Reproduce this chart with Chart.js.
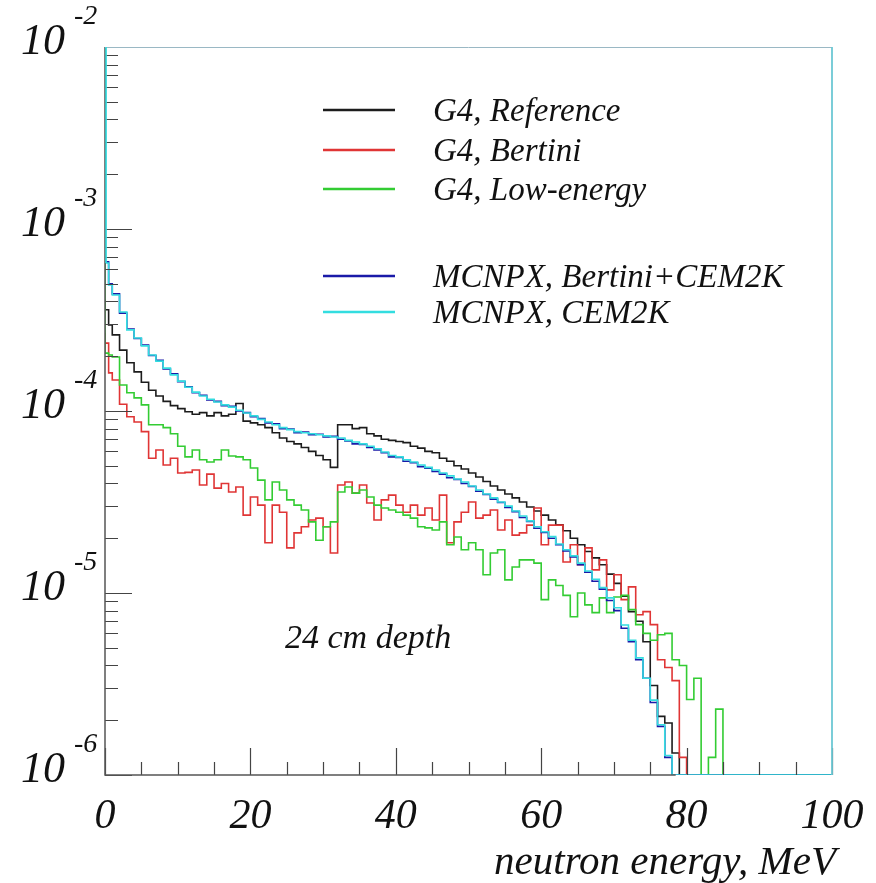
<!DOCTYPE html>
<html><head><meta charset="utf-8">
<script src="https://cdn.jsdelivr.net/npm/chart.js@4.4.1/dist/chart.umd.min.js"></script>
<style>html,body{margin:0;padding:0;background:#fff;}#wrap{width:876px;height:883px;}</style>
</head><body><div id="wrap"><canvas id="c" width="876" height="883"></canvas></div>
<script>
// Bin left edges (MeV); last bin ends at eMax
const edges = [0,0.5,1,2,3,4,5,6,7,8,9,10,11,12,13,14,15,16,17,18,19,20,21,22,23,24,25,26,27,28,29,30,31,32,33,34,35,36,37,38,39,40,41,42,43,44,45,46,47,48,49,50,51,52,53,54,55,56,57,58,59,60,61,62,63,64,65,66,67,68,69,70,71,72,73,74,75,76,77,78,79,80,81,82,83,84,85,86,87,88,89,90,91,92,93,94,95,96,97,98,99];
const eMax = 100;

const g4Reference = [4.1e-4,3.6e-4,
2.97e-4,2.62e-4,2.16e-4,1.84e-4,1.64e-4,1.44e-4,1.30e-4,1.21e-4,1.13e-4,
1.07e-4,1.03e-4,9.9e-5,9.6e-5,9.8e-5,9.4e-5,9.8e-5,9.4e-5,9.6e-5,1.1e-4,
8.8e-5,8.6e-5,8.4e-5,8.1e-5,7.6e-5,7.1e-5,6.8e-5,6.6e-5,6.3e-5,6.0e-5,
5.7e-5,5.4e-5,4.9e-5,8.4e-5,8.4e-5,8.0e-5,8.1e-5,7.5e-5,7.3e-5,7.0e-5,
6.9e-5,6.8e-5,6.7e-5,6.4e-5,6.25e-5,6.0e-5,5.9e-5,5.5e-5,5.3e-5,5.0e-5,
4.8e-5,4.56e-5,4.34e-5,4.1e-5,3.87e-5,3.68e-5,3.5e-5,3.33e-5,3.16e-5,2.97e-5,
2.82e-5,2.68e-5,2.52e-5,2.37e-5,2.2e-5,2.0e-5,1.84e-5,1.69e-5,1.56e-5,1.43e-5,
1.27e-5,1.13e-5,9.6e-6,7.9e-6,7.0e-6,5.4e-6,3.1e-6,2.1e-6,1.93e-6,1.32e-6,
0,0,0,0,0,0,0,0,0,0,
0,0,0,0,0,0,0,0,0,0];

const g4Bertini = [2.69e-4,2.36e-4,
1.62e-4,1.48e-4,1.09e-4,9.3e-5,8.7e-5,7.7e-5,5.5e-5,6.1e-5,5.05e-5,
5.5e-5,4.56e-5,4.6e-5,4.74e-5,3.92e-5,4.5e-5,3.77e-5,4.0e-5,3.59e-5,3.82e-5,
2.68e-5,3.37e-5,3.04e-5,1.89e-5,3.04e-5,2.78e-5,1.77e-5,2.14e-5,2.31e-5,2.52e-5,
2.58e-5,2.31e-5,1.66e-5,3.92e-5,4.07e-5,3.54e-5,3.92e-5,3.12e-5,2.52e-5,3.25e-5,
3.45e-5,3.04e-5,2.78e-5,3.04e-5,2.68e-5,2.93e-5,2.52e-5,3.45e-5,1.89e-5,2.46e-5,
2.78e-5,3.16e-5,2.58e-5,2.68e-5,2.86e-5,2.22e-5,2.52e-5,2.08e-5,2.14e-5,2.36e-5,
2.93e-5,1.84e-5,2.36e-5,2.36e-5,1.48e-5,1.84e-5,1.43e-5,1.77e-5,1.34e-5,1.52e-5,
1.04e-5,1.26e-5,9.2e-6,1.08e-5,7.6e-6,7.9e-6,6.7e-6,4.3e-6,3.9e-6,3.3e-6,
1.25e-6,0,0,0,0,0,0,0,0,0,
0,0,0,0,0,0,0,0,0,0];

const g4LowEnergy = [6.9e-4,2.08e-4,
2.03e-4,1.98e-4,1.39e-4,1.26e-4,1.18e-4,1.08e-4,8.4e-5,8.4e-5,8.1e-5,
7.5e-5,6.4e-5,5.6e-5,6.1e-5,5.4e-5,5.25e-5,5.4e-5,6.1e-5,5.66e-5,5.6e-5,
5.4e-5,4.86e-5,4.17e-5,3.25e-5,4.07e-5,3.68e-5,3.25e-5,3.04e-5,2.86e-5,2.46e-5,
1.95e-5,2.31e-5,2.46e-5,3.59e-5,3.82e-5,3.54e-5,3.68e-5,3.37e-5,3.04e-5,2.93e-5,
2.86e-5,2.78e-5,2.68e-5,2.58e-5,2.31e-5,2.28e-5,2.22e-5,2.46e-5,1.84e-5,2.03e-5,
1.73e-5,1.89e-5,1.73e-5,1.26e-5,1.66e-5,1.73e-5,1.18e-5,1.39e-5,1.52e-5,1.52e-5,
1.46e-5,9.2e-6,1.18e-5,1.1e-5,9.7e-6,7.4e-6,1.0e-5,8.6e-6,7.8e-6,9.4e-6,
7.8e-6,9.5e-6,9.7e-6,8.1e-6,6.7e-6,6.0e-6,5.5e-6,5.9e-6,6.0e-6,4.3e-6,
4.0e-6,2.6e-6,3.4e-6,0,1.25e-6,2.3e-6,0,0,0,0,
0,0,0,0,0,0,0,0,0,0];

const mcnpxBertiniCem = [9.0e-3,6.6e-4,
5.0e-4,4.4e-4,3.45e-4,2.82e-4,2.5e-4,2.3e-4,2.02e-4,1.9e-4,1.7e-4,
1.6e-4,1.45e-4,1.36e-4,1.26e-4,1.22e-4,1.15e-4,1.13e-4,1.07e-4,1.06e-4,1.0e-4,
9.8e-5,9.3e-5,9.1e-5,8.6e-5,8.5e-5,8.0e-5,7.95e-5,7.6e-5,7.65e-5,7.4e-5,
7.45e-5,7.2e-5,7.25e-5,7.0e-5,6.85e-5,6.6e-5,6.55e-5,6.3e-5,6.1e-5,5.9e-5,
5.6e-5,5.55e-5,5.3e-5,5.2e-5,4.95e-5,4.85e-5,4.65e-5,4.5e-5,4.3e-5,4.2e-5,
4.0e-5,3.85e-5,3.62e-5,3.48e-5,3.28e-5,3.14e-5,2.95e-5,2.8e-5,2.6e-5,2.47e-5,
2.27e-5,2.15e-5,2.0e-5,1.84e-5,1.7e-5,1.58e-5,1.43e-5,1.3e-5,1.16e-5,1.05e-5,
9.1e-6,8.0e-6,6.4e-6,5.4e-6,4.3e-6,3.4e-6,2.5e-6,1.85e-6,1.25e-6,0,
0,0,0,0,0,0,0,0,0,0,
0,0,0,0,0,0,0,0,0,0];

const mcnpxCem = [1.05e-2,6.5e-4,
4.93e-4,4.34e-4,3.5e-4,2.79e-4,2.52e-4,2.28e-4,2.03e-4,1.88e-4,1.72e-4,
1.58e-4,1.46e-4,1.35e-4,1.27e-4,1.21e-4,1.16e-4,1.12e-4,1.08e-4,1.05e-4,1.01e-4,
9.75e-5,9.4e-5,9.0e-5,8.7e-5,8.4e-5,8.1e-5,7.9e-5,7.7e-5,7.6e-5,7.5e-5,
7.4e-5,7.3e-5,7.2e-5,7.1e-5,6.9e-5,6.75e-5,6.6e-5,6.4e-5,6.2e-5,5.95e-5,
5.7e-5,5.6e-5,5.4e-5,5.25e-5,5.05e-5,4.9e-5,4.74e-5,4.56e-5,4.4e-5,4.23e-5,
4.07e-5,3.87e-5,3.68e-5,3.5e-5,3.33e-5,3.16e-5,3.0e-5,2.82e-5,2.65e-5,2.49e-5,
2.31e-5,2.17e-5,2.04e-5,1.86e-5,1.73e-5,1.6e-5,1.46e-5,1.32e-5,1.19e-5,1.07e-5,
9.4e-6,8.3e-6,6.67e-6,5.5e-6,4.4e-6,3.4e-6,2.58e-6,1.89e-6,1.28e-6,0,
0,0,0,0,0,0,0,0,0,0,
0,0,0,0,0,0,0,0,0,0];

const seriesNames = ['G4, Reference','G4, Bertini','G4, Low-energy','MCNPX, Bertini+CEM2K','MCNPX, CEM2K'];
const seriesColors = ['#1c1c1c','#e03535','#33cc33','#1a1aa8','#33dde0'];
const yExponents = [-2,-3,-4,-5,-6];
const xTickLabels = ['0','20','40','60','80','100'];
const xTitle = 'neutron energy, MeV';
const noteText = '24 cm depth';
const yMin = 1e-6, yMax = 1e-2;

function hist(vals){
  const pts = edges.map((e,i)=>({x:e, y: vals[i] > 0 ? vals[i] : yMin}));
  pts.push({x:eMax, y: pts[pts.length-1].y});
  return pts;
}
const allSeries = [g4Reference, g4Bertini, g4LowEnergy, mcnpxBertiniCem, mcnpxCem];
const drawOrder = [4,3,2,1,0];
const datasets = allSeries.map((s,i)=>({
  label: seriesNames[i], data: hist(s), borderColor: seriesColors[i],
  borderWidth: 1.6, pointRadius: 0, fill: false, stepped: 'after', order: drawOrder[i]
}));

const FONT = '"Liberation Serif", "DejaVu Serif", serif';
const rootPlugin = {
  id: 'rootStyle',
  afterDatasetsDraw(chart){
    const {ctx, chartArea:a, scales:{x, y}} = chart;
    ctx.save();
    // ticks
    ctx.strokeStyle = '#444'; ctx.lineWidth = 1.2;
    ctx.beginPath();
    for (let e = -6; e <= -2; e++){
      const yp = Math.round(y.getPixelForValue(Math.pow(10,e))) + 0.5;
      ctx.moveTo(a.left, yp); ctx.lineTo(a.left + 27, yp);
      if (e < -2){
        for (let m = 2; m <= 9; m++){
          const ym = Math.round(y.getPixelForValue(m*Math.pow(10,e))) + 0.5;
          ctx.moveTo(a.left, ym); ctx.lineTo(a.left + 13, ym);
        }
      }
    }
    for (let v = 0; v <= 100; v += 5){
      const xp = Math.round(x.getPixelForValue(v)) + 0.5;
      ctx.moveTo(xp, a.bottom); ctx.lineTo(xp, a.bottom - (v % 20 === 0 ? 27 : 13));
    }
    ctx.stroke();
    // frame
    ctx.lineWidth = 1.5; ctx.strokeStyle = '#555';
    ctx.beginPath();
    ctx.moveTo(a.left, a.top); ctx.lineTo(a.left, a.bottom);
    ctx.lineTo(x.getPixelForValue(78.5), a.bottom);
    ctx.stroke();
    ctx.strokeStyle = '#9ab8c4'; ctx.lineWidth = 1;
    ctx.beginPath(); ctx.moveTo(a.left, a.top + 0.5); ctx.lineTo(a.right, a.top + 0.5); ctx.stroke();
    ctx.strokeStyle = '#6cc8d4'; ctx.lineWidth = 1.8;
    ctx.beginPath(); ctx.moveTo(a.right, a.top); ctx.lineTo(a.right, a.bottom); ctx.stroke();
    // cyan low-energy spike along the left edge
    ctx.strokeStyle = seriesColors[4]; ctx.lineWidth = 1.6;
    ctx.beginPath();
    ctx.moveTo(x.getPixelForValue(0.15), a.top); ctx.lineTo(x.getPixelForValue(0.15), y.getPixelForValue(mcnpxCem[1]));
    ctx.stroke();

    // y labels
    ctx.fillStyle = '#111';
    yExponents.forEach(e=>{
      const yp = y.getPixelForValue(Math.pow(10,e));
      ctx.font = 'italic 44px ' + FONT; ctx.textAlign = 'right'; ctx.textBaseline = 'alphabetic';
      ctx.fillText('10', 65, yp + 7);
      ctx.font = 'italic 28px ' + FONT; ctx.textAlign = 'left';
      ctx.fillText(String(e), 74, yp - 23);
    });
    // x labels
    ctx.font = 'italic 42px ' + FONT; ctx.textAlign = 'center';
    xTickLabels.forEach(t=>{
      ctx.fillText(t, x.getPixelForValue(Number(t)), 828);
    });
    ctx.textAlign = 'right';
    ctx.font = 'italic 41px ' + FONT;
    ctx.fillText(xTitle, 836, 874);
    // note
    ctx.textAlign = 'left'; ctx.font = 'italic 34px ' + FONT;
    ctx.fillText(noteText, 285, 648);
    // legend
    const legY = [110, 150, 189, 276, 312];
    seriesNames.forEach((n,i)=>{
      ctx.strokeStyle = seriesColors[i]; ctx.lineWidth = 2.6;
      ctx.beginPath(); ctx.moveTo(323, legY[i]); ctx.lineTo(395, legY[i]); ctx.stroke();
      ctx.fillStyle = '#111'; ctx.font = 'italic 33px ' + FONT;
      ctx.fillText(n, 433, legY[i] + 11);
    });
    ctx.restore();
  }
};

new Chart(document.getElementById('c'), {
  type: 'line',
  data: { datasets },
  options: {
    responsive: false, animation: false, devicePixelRatio: 1,
    layout: { padding: { top: 47, right: 44, left: 0, bottom: 0 } },
    plugins: { legend: { display: false }, tooltip: { enabled: false } },
    scales: {
      x: { type: 'linear', min: 0, max: eMax, grid: { display: false }, border: { display: false },
           ticks: { display: false }, afterFit(s){ s.height = 108; } },
      y: { type: 'logarithmic', min: yMin, max: yMax, grid: { display: false }, border: { display: false },
           ticks: { display: false }, afterFit(s){ s.width = 105; } }
    }
  },
  plugins: [rootPlugin]
});
</script></body></html>
